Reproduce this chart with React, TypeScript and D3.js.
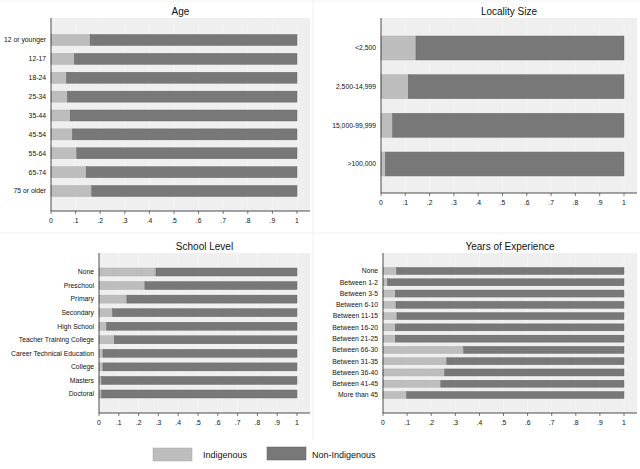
import React from "react";
import * as d3 from "d3";

// share of indigenous respondents per category; non-indigenous fills to 1
const ageCats = ["12 or younger", "12-17", "18-24", "25-34", "35-44", "45-54", "55-64", "65-74", "75 or older"];
const ageVals = [0.159, 0.095, 0.063, 0.067, 0.078, 0.087, 0.105, 0.143, 0.166];

const localityCats = ["<2,500", "2,500-14,999", "15,000-99,999", ">100,000"];
const localityVals = [0.144, 0.112, 0.048, 0.018];

const schoolCats = [
  "None",
  "Preschool",
  "Primary",
  "Secondary",
  "High School",
  "Teacher Training College",
  "Career Technical Education",
  "College",
  "Masters",
  "Doctoral",
];
const schoolVals = [0.288, 0.232, 0.141, 0.069, 0.039, 0.077, 0.02, 0.02, 0.013, 0.013];

const expCats = [
  "None",
  "Between 1-2",
  "Between 3-5",
  "Between 6-10",
  "Between 11-15",
  "Between 16-20",
  "Between 21-25",
  "Between 66-30",
  "Between 31-35",
  "Between 36-40",
  "Between 41-45",
  "More than 45",
];
const expVals = [0.057, 0.019, 0.051, 0.054, 0.058, 0.051, 0.051, 0.335, 0.265, 0.256, 0.24, 0.098];

const ticks = d3.range(0, 11).map((i) => i / 10);
const tickLabel = (t: number) => (t === 0 ? "0" : t === 1 ? "1" : "." + Math.round(t * 10));

const width = 640;
const height = 469;
const font = "Liberation Sans, Arial, sans-serif";

const lightFill = "#bdbdbd";
const darkFill = "#787878";
const plotBg = "#efefef";

type PanelProps = {
  title: string;
  cats: string[];
  vals: number[];
  x0: number; // pixel of value 0
  x1: number; // pixel of value 1
  right: number;
  top: number;
  bottom: number;
  titleY: number;
  firstY: number;
  lastY: number;
  barH: number;
};

const Panel = (p: PanelProps) => {
  const x = d3.scaleLinear().domain([0, 1]).range([p.x0, p.x1]);
  const y = d3.scalePoint<string>().domain(p.cats).range([p.firstY, p.lastY]);
  return (
    <g>
      <rect x={p.x0} y={p.top} width={p.right - p.x0} height={p.bottom - p.top} fill={plotBg} />
      {ticks.map((t) => (
        <line key={t} x1={x(t)} x2={x(t)} y1={p.top} y2={p.bottom} stroke="#f6f6f6" strokeWidth={0.6} />
      ))}
      <text x={(p.x0 + p.right) / 2} y={p.titleY} textAnchor="middle" fontSize={10} fill="#111">
        {p.title}
      </text>
      {p.cats.map((c, i) => {
        const cy = y(c)!;
        return (
          <g key={c}>
            <rect
              x={x(0)}
              y={cy - p.barH / 2}
              width={x(p.vals[i]) - x(0)}
              height={p.barH}
              fill={lightFill}
              stroke="#a8a8a8"
              strokeWidth={0.4}
            />
            <rect
              x={x(p.vals[i])}
              y={cy - p.barH / 2}
              width={x(1) - x(p.vals[i])}
              height={p.barH}
              fill={darkFill}
              stroke="#5e5e5e"
              strokeWidth={0.4}
            />
            <text x={p.x0 - 5} y={cy} dy="0.35em" textAnchor="end" fontSize={6.8} fill="#111">
              {c}
            </text>
          </g>
        );
      })}
      <line x1={p.x0} x2={p.x0} y1={p.top} y2={p.bottom} stroke="#222" strokeWidth={0.8} />
      <line x1={p.x0} x2={p.right} y1={p.bottom} y2={p.bottom} stroke="#222" strokeWidth={0.8} />
      {ticks.map((t) => (
        <g key={t}>
          <line x1={x(t)} x2={x(t)} y1={p.bottom} y2={p.bottom + 3} stroke="#222" strokeWidth={0.6} />
          <text x={x(t)} y={p.bottom + 12} textAnchor="middle" fontSize={6.8} fill="#111">
            {tickLabel(t)}
          </text>
        </g>
      ))}
    </g>
  );
};

const App = () => {
  return (
    <svg
      width={width}
      height={height}
      style={{ position: "absolute", left: 0, top: 0, background: "#fff" }}
      fontFamily={font}
    >
      <line x1={313} x2={313} y1={0} y2={440} stroke="#f0f0f0" />
      <line x1={0} x2={width} y1={233} y2={233} stroke="#f0f0f0" />
      <line x1={0} x2={width} y1={1} y2={1} stroke="#f4f4f4" />
      <Panel
        title="Age"
        cats={ageCats}
        vals={ageVals}
        x0={51}
        x1={297}
        right={310}
        top={18}
        bottom={211}
        titleY={15}
        firstY={40}
        lastY={191}
        barH={11}
      />
      <Panel
        title="Locality Size"
        cats={localityCats}
        vals={localityVals}
        x0={381}
        x1={624}
        right={637}
        top={18}
        bottom={193}
        titleY={15}
        firstY={48}
        lastY={164}
        barH={24}
      />
      <Panel
        title="School Level"
        cats={schoolCats}
        vals={schoolVals}
        x0={99}
        x1={297}
        right={310}
        top={253}
        bottom={413}
        titleY={250}
        firstY={272}
        lastY={394}
        barH={8}
      />
      <Panel
        title="Years of Experience"
        cats={expCats}
        vals={expVals}
        x0={383}
        x1={624}
        right={637}
        top={253}
        bottom={413}
        titleY={250}
        firstY={271}
        lastY={395}
        barH={7}
      />
      <rect x={153} y={448} width={39} height={13} fill={lightFill} stroke="#a8a8a8" strokeWidth={0.5} />
      <text x={203} y={455} dy="0.35em" fontSize={9} fill="#111">
        Indigenous
      </text>
      <rect x={267} y={447} width={39} height={13} fill={darkFill} stroke="#5e5e5e" strokeWidth={0.5} />
      <text x={312} y={455} dy="0.35em" fontSize={9} fill="#111">
        Non-Indigenous
      </text>
    </svg>
  );
};

export default App;
